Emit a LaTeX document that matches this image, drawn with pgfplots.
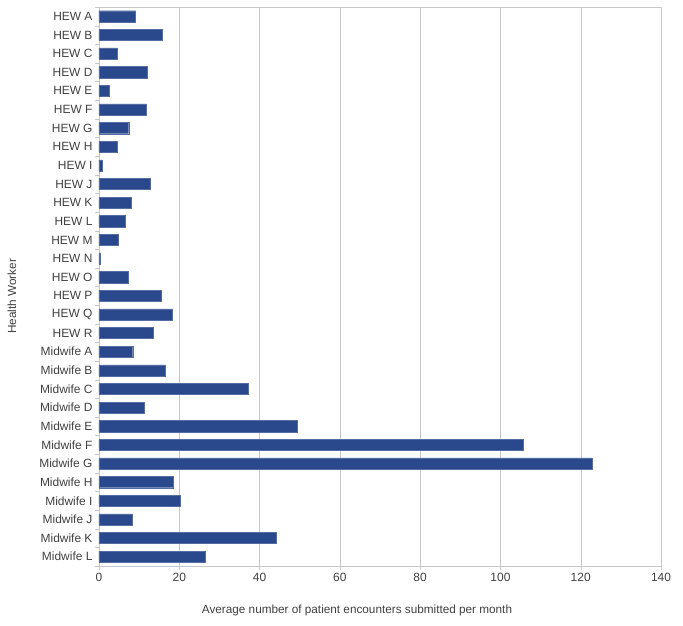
\documentclass[border=0pt]{standalone}
\usepackage{pgfplots}
\pgfplotsset{compat=1.18}
\usepackage{fontspec}
\setmainfont{Liberation Sans}
\definecolor{barblue}{RGB}{42,72,140}
\definecolor{gridgray}{RGB}{200,200,200}
\definecolor{txtgray}{RGB}{64,64,64}

\begin{document}
\begin{tikzpicture}
  \begin{axis}[
        scale only axis,
        width=562bp, height=559bp,
        xbar, bar width=0.6,
        xmin=0, xmax=140, ymin=-0.5, ymax=29.5,
        y dir=reverse,
        xtick={0,20,...,140},
        ytick={0,...,29},
        yticklabels={HEW A,HEW B,HEW C,HEW D,HEW E,HEW F,HEW G,HEW H,HEW I,HEW J,HEW K,HEW L,HEW M,HEW N,HEW O,HEW P,HEW Q,HEW R,Midwife A,Midwife B,Midwife C,Midwife D,Midwife E,Midwife F,Midwife G,Midwife H,Midwife I,Midwife J,Midwife K,Midwife L},
        minor ytick={-0.5,0.5,...,29.5},
        major y tick style={draw=none},
        minor tick length=4bp, major tick length=4bp,
        tick align=outside,
        xtick pos=left, ytick pos=left,
        tick style={gridgray},
        xmajorgrids, grid style={gridgray},
        axis line style={gridgray},
        ticklabel style={font=\fontsize{12}{14}\selectfont, text=txtgray},
        yticklabel style={xshift=1bp},
        /pgf/number format/assume math mode=true,
        xlabel={Average number of patient encounters submitted per month},
        ylabel={Health Worker},
        label style={font=\fontsize{11.8}{14}\selectfont, text=txtgray},
        xlabel style={at={(axis description cs:0.5,0)}, anchor=center, xshift=-23bp, yshift=-44bp},
        ylabel style={at={(axis description cs:0,0.5)}, anchor=center, yshift=87bp, xshift=-10bp},
        ]
    \addplot[draw=barblue!80!white, fill=barblue] coordinates {
      (9.1,0) (15.8,1) (4.5,2) (12.0,3) (2.6,4) (11.8,5) (7.4,6) (4.6,7)
      (0.8,8) (12.8,9) (8.0,10) (6.5,11) (4.8,12) (0.4,13) (7.3,14)
      (15.6,15) (18.3,16) (13.6,17)
      (8.4,18) (16.6,19) (37.2,20) (11.2,21) (49.4,22) (105.7,23)
      (122.8,24) (18.4,25) (20.2,26) (8.3,27) (44.1,28) (26.5,29)
    };
  \end{axis}
  \pgfresetboundingbox
  \path ([shift={(-99bp,-60bp)}]current axis.south west) rectangle ([shift={(22bp,7bp)}]current axis.north east);
\end{tikzpicture}
\end{document}
